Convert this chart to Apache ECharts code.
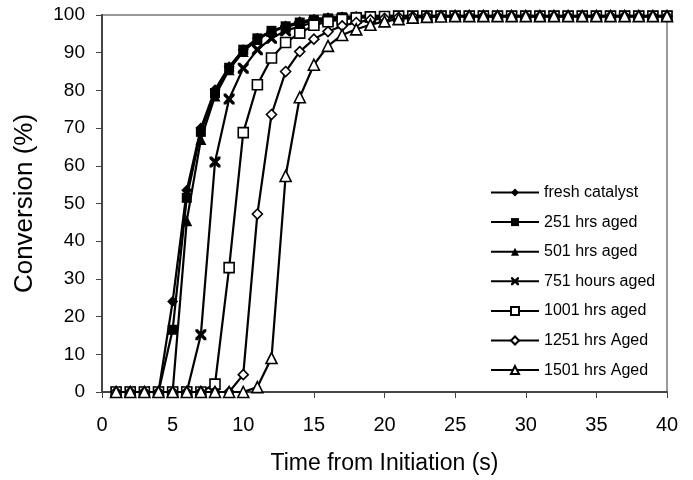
<!DOCTYPE html>
<html>
<head>
<meta charset="utf-8">
<script src="https://cdn.jsdelivr.net/npm/echarts@6/dist/echarts.min.js"></script>
<style>
html,body{margin:0;padding:0;background:#fff;}
#c{width:693px;height:480px;}
</style>
</head>
<body>
<div id="c"></div>
<script>
const times = [1,2,3,4,5,6,7,8,9,10,11,12,13,14,15,16,17,18,19,20,21,22,23,24,25,26,27,28,29,30,31,32,33,34,35,36,37,38,39,40];
const seriesNames = ['fresh catalyst','251 hrs aged','501 hrs aged','751 hours aged','1001 hrs aged','1251 hrs Aged','1501 hrs Aged'];
const fresh = [0,0,0,0,24,53.5,70,80.2,86.3,90.8,93.8,95.7,97.1,98.2,98.9,99.3,99.5,99.6,99.7,99.7,99.7,99.7,99.7,99.7,99.7,99.7,99.7,99.7,99.7,99.7,99.7,99.7,99.7,99.7,99.7,99.7,99.7,99.7,99.7,99.7];
const aged251 = [0,0,0,0,16.5,51.5,69,79.3,86,90.8,93.8,95.8,97,98,98.7,99.1,99.4,99.5,99.6,99.7,99.7,99.7,99.7,99.7,99.7,99.7,99.7,99.7,99.7,99.7,99.7,99.7,99.7,99.7,99.7,99.7,99.7,99.7,99.7,99.7];
const aged501 = [0,0,0,0,0,45.4,67,78.5,85.5,90.3,93.5,95.6,96.8,97.8,98.5,99,99.3,99.5,99.6,99.7,99.7,99.7,99.7,99.7,99.7,99.7,99.7,99.7,99.7,99.7,99.7,99.7,99.7,99.7,99.7,99.7,99.7,99.7,99.7,99.7];
const aged751 = [0,0,0,0,0,0,15.2,61,77.7,85.9,90.8,93.8,95.8,97,98,98.6,99,99.3,99.5,99.6,99.7,99.7,99.7,99.7,99.7,99.7,99.7,99.7,99.7,99.7,99.7,99.7,99.7,99.7,99.7,99.7,99.7,99.7,99.7,99.7];
const aged1001 = [0,0,0,0,0,0,0,2.1,33,68.8,81.5,88.6,92.7,95.2,97.3,98.2,98.8,99.2,99.5,99.6,99.7,99.7,99.7,99.7,99.7,99.7,99.7,99.7,99.7,99.7,99.7,99.7,99.7,99.7,99.7,99.7,99.7,99.7,99.7,99.7];
const aged1251 = [0,0,0,0,0,0,0,0,0,4.6,47.2,73.6,85,90.3,93.6,95.6,97.1,98,98.7,99.1,99.4,99.6,99.7,99.7,99.7,99.7,99.7,99.7,99.7,99.7,99.7,99.7,99.7,99.7,99.7,99.7,99.7,99.7,99.7,99.7];
const aged1501 = [0,0,0,0,0,0,0,0,0,0,1.3,9,57.3,78.2,86.8,91.8,94.7,96.2,97.4,98.3,98.9,99.3,99.5,99.6,99.7,99.7,99.7,99.7,99.7,99.7,99.7,99.7,99.7,99.7,99.7,99.7,99.7,99.7,99.7,99.7];
const xTicks = [0,5,10,15,20,25,30,35,40];
const yTicks = [0,10,20,30,40,50,60,70,80,90,100];

const values = [fresh, aged251, aged501, aged751, aged1001, aged1251, aged1501];
const XPATH = 'path://M0,0 L2.2,0 L5,2.8 L7.8,0 L10,0 L10,2.2 L7.2,5 L10,7.8 L10,10 L7.8,10 L5,7.2 L2.2,10 L0,10 L0,7.8 L2.8,5 L0,2.2 Z';
const styles = [
  {symbol:'diamond', fill:'#000', size:11},
  {symbol:'rect', fill:'#000', size:10},
  {symbol:'triangle', fill:'#000', size:11},
  {symbol:XPATH, fill:'#000', size:11},
  {symbol:'rect', fill:'#fff', size:10},
  {symbol:'diamond', fill:'#fff', size:10},
  {symbol:'triangle', fill:'#fff', size:11}
];

const chart = echarts.init(document.getElementById('c'), null, {renderer:'canvas'});
const font = 'Liberation Sans, Arial, sans-serif';
chart.setOption({
  animation:false,
  backgroundColor:'#fff',
  grid:{left:102, right:26, top:15, bottom:87, show:true, borderColor:'#999', borderWidth:2, backgroundColor:'transparent'},
  legend:{
    orient:'vertical', left:485, top:179.5,
    itemWidth:48, itemHeight:10, itemGap:13.6,
    textStyle:{fontFamily:font, fontSize:16, color:'#000'},
    data:seriesNames
  },
  xAxis:{
    type:'value', min:0, max:40, interval:5,
    name:'Time from Initiation (s)', nameLocation:'middle', nameGap:60,
    nameTextStyle:{fontFamily:font, fontSize:23, color:'#000'},
    axisLine:{show:true, onZero:false, lineStyle:{color:'#444', width:2}},
    axisTick:{show:true, length:6, inside:false, lineStyle:{color:'#444', width:1}},
    axisLabel:{fontFamily:font, fontSize:20, color:'#000', margin:23, formatter:v=>xTicks.includes(v)?String(v):''},
    splitLine:{show:false}
  },
  yAxis:{
    type:'value', min:0, max:100, interval:10,
    name:'Conversion (%)', nameLocation:'middle', nameGap:64, nameRotate:90,
    nameTextStyle:{fontFamily:font, fontSize:26, color:'#000'},
    axisLine:{show:true, lineStyle:{color:'#444', width:2}},
    axisTick:{show:true, length:6, inside:false, lineStyle:{color:'#444', width:1}},
    axisLabel:{fontFamily:font, fontSize:19, color:'#000', margin:17, formatter:v=>yTicks.includes(v)?String(v):''},
    splitLine:{show:false}
  },
  series: seriesNames.map((n,i)=>({
    name:n, type:'line',
    data: times.map((t,j)=>[t, values[i][j]]),
    symbol: styles[i].symbol, symbolSize: styles[i].size, showSymbol:true,
    lineStyle:{color:'#000', width:2.2},
    itemStyle:{color:styles[i].fill, borderColor:'#000', borderWidth: styles[i].fill==='#fff'?1.6:0},
    z: 2+i
  }))
});
</script>
</body>
</html>
